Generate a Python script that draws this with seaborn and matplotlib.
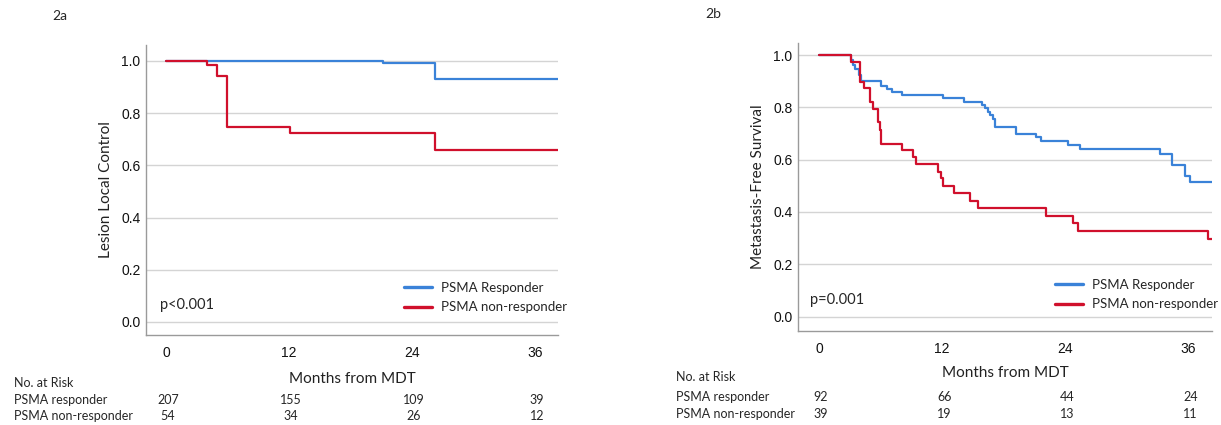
import numpy as np
import pandas as pd
import matplotlib
matplotlib.use("Agg")
import matplotlib.pyplot as plt
import matplotlib.transforms as mtrans
from matplotlib.lines import Line2D
import seaborn as sns

# Panel 2a - lesion local control (step points: month, survival)
a_resp_t = [0, 21.2, 26.2, 38.2]
a_resp_s = [1.0, 0.992, 0.929, 0.929]
a_non_t = [0, 4.0, 5.0, 6.0, 12.1, 26.2, 38.2]
a_non_s = [1.0, 0.983, 0.941, 0.745, 0.724, 0.660, 0.660]

# Panel 2b - metastasis-free survival
b_resp_t = [0, 3.1, 3.35, 3.5, 3.9, 4.07, 6.05, 6.6, 7.1, 8.07, 12.13, 14.15, 15.87,
            16.2, 16.43, 16.68, 16.91, 17.17, 19.2, 21.14, 21.66, 24.26, 25.4, 33.27,
            34.4, 35.7, 36.13, 38.3]
b_resp_s = [1.0, 0.981, 0.962, 0.945, 0.924, 0.902, 0.882, 0.871, 0.860, 0.847, 0.834,
            0.822, 0.809, 0.796, 0.783, 0.771, 0.755, 0.726, 0.700, 0.685, 0.671, 0.656,
            0.639, 0.620, 0.580, 0.538, 0.513, 0.513]
b_non_t = [0, 3.12, 4.0, 4.39, 4.98, 5.24, 5.7, 5.9, 6.02, 8.07, 9.11, 9.44, 11.55,
           11.87, 12.13, 13.2, 14.67, 15.48, 22.15, 24.75, 25.24, 37.92, 38.3]
b_non_s = [1.0, 0.975, 0.898, 0.873, 0.822, 0.792, 0.745, 0.713, 0.660, 0.637, 0.611,
           0.582, 0.554, 0.529, 0.500, 0.471, 0.442, 0.414, 0.386, 0.357, 0.327, 0.296,
           0.296]

groups = ["PSMA Responder", "PSMA non-responder"]
risk_months = [0, 12, 24, 36]
a_risk_resp = [207, 155, 109, 39]
a_risk_non = [54, 34, 26, 12]
b_risk_resp = [92, 66, 44, 24]
b_risk_non = [39, 19, 13, 11]

colors = {"PSMA Responder": "#3a82d8", "PSMA non-responder": "#d0102c"}

sns.set_theme(style="white")
plt.rcParams["font.family"] = ["Liberation Sans", "DejaVu Sans"]
lab_font = ["Lato", "DejaVu Sans"]

W, H = 1221, 425
fig = plt.figure(figsize=(W / 100, H / 100), dpi=100)


def make_df(rt, rs, nt, ns):
    d1 = pd.DataFrame({"month": rt, "surv": rs, "group": groups[0]})
    d2 = pd.DataFrame({"month": nt, "surv": ns, "group": groups[1]})
    return pd.concat([d1, d2], ignore_index=True)


def panel(rect, df, xlim, ylim, ylabel, tag, tag_xy, pval, p_xy, leg_xy,
          risk_resp, risk_non, risk_y, label_x, mdt_y):
    ax = fig.add_axes(rect)
    sns.lineplot(data=df, x="month", y="surv", hue="group", palette=colors,
                 drawstyle="steps-post", estimator=None, sort=False,
                 linewidth=1.6, legend=False, ax=ax)
    ax.set_xlim(*xlim)
    ax.set_ylim(*ylim)
    ax.set_xticks(risk_months)
    ax.set_yticks([0.0, 0.2, 0.4, 0.6, 0.8, 1.0])
    ax.set_yticklabels(["0.0", "0.2", "0.4", "0.6", "0.8", "1.0"])
    ax.yaxis.grid(True, color="#d4d4d4", linewidth=1.0)
    ax.set_axisbelow(True)
    for s in ["top", "right"]:
        ax.spines[s].set_visible(False)
    for s in ["left", "bottom"]:
        ax.spines[s].set_color("#9a9a9a")
        ax.spines[s].set_linewidth(1.0)
    ax.tick_params(axis="both", length=0, labelsize=10, colors="#111111")
    ax.tick_params(axis="x", pad=8)
    ax.tick_params(axis="y", pad=4)
    ax.set_xlabel("")
    ax.set_ylabel(ylabel, family=lab_font, fontsize=11, color="#222222", labelpad=6)

    fig.text(tag_xy[0] / W, 1 - tag_xy[1] / H, tag, family=lab_font, fontsize=10,
             va="center", ha="left")
    ax.text(p_xy[0] / W, 1 - p_xy[1] / H, pval, transform=fig.transFigure,
            family=lab_font, fontsize=10.5, va="center", ha="left")

    handles = [Line2D([], [], color=colors[g], linewidth=2.4) for g in groups]
    ax.legend(handles, groups, loc="upper left", frameon=False,
              bbox_to_anchor=(leg_xy[0] / W, 1 - leg_xy[1] / H),
              bbox_transform=fig.transFigure, prop={"family": lab_font, "size": 9.5},
              handlelength=2.1, handletextpad=0.7, labelspacing=0.55)

    tr = mtrans.blended_transform_factory(ax.transData, fig.transFigure)
    fig.text(rect[0] + rect[2] / 2, 1 - mdt_y / H, "Months from MDT",
             family=lab_font, fontsize=11, ha="center", va="center", color="#222222")
    fig.text(label_x / W, 1 - risk_y[0] / H, "No. at Risk", family=lab_font,
             fontsize=9, va="center")
    fig.text(label_x / W, 1 - risk_y[1] / H, "PSMA responder", family=lab_font,
             fontsize=9, va="center")
    fig.text(label_x / W, 1 - risk_y[2] / H, "PSMA non-responder", family=lab_font,
             fontsize=9, va="center")
    for m, r, n in zip(risk_months, risk_resp, risk_non):
        ax.text(m + 0.2, 1 - risk_y[1] / H, str(r), transform=tr, family=lab_font,
                fontsize=9, ha="center", va="center")
        ax.text(m + 0.2, 1 - risk_y[2] / H, str(n), transform=tr, family=lab_font,
                fontsize=9, ha="center", va="center")
    return ax


df_a = make_df(a_resp_t, a_resp_s, a_non_t, a_non_s)
df_b = make_df(b_resp_t, b_resp_s, b_non_t, b_non_s)

panel([146 / W, 1 - 335 / H, 412 / W, 290 / H], df_a, (-1.95, 38.24), (-0.05, 1.061),
      "Lesion Local Control", "2a", (52, 16), "p<0.001", (160, 305), (392, 270),
      a_risk_resp, a_risk_non, (383, 400, 416), 14, 379)

panel([798 / W, 1 - 331 / H, 414 / W, 288 / H], df_b, (-2.05, 38.3), (-0.055, 1.046),
      "Metastasis-Free Survival", "2b", (705, 14), "p=0.001", (810, 300), (1043, 267),
      b_risk_resp, b_risk_non, (377, 397, 414), 676, 373)

fig.savefig("out.png", dpi=100, facecolor="white")
